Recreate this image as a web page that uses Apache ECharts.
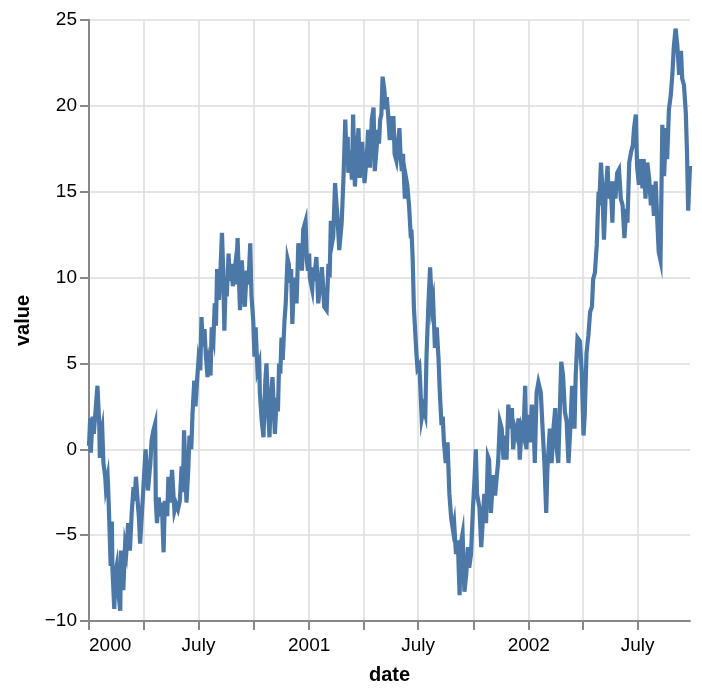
<!DOCTYPE html>
<html>
<head>
<meta charset="utf-8">
<script src="https://cdn.jsdelivr.net/npm/echarts@6/dist/echarts.min.js"></script>
<style>
  html, body { margin: 0; padding: 0; background: #fff; }
  #chart { width: 702px; height: 694px; }
</style>
</head>
<body>
<div id="chart"></div>
<script>
// days since 2000-01-01 and the value for that day
const startDate = [2000, 0, 1]
const days = [0,2,3,6,8,11,14,17,18,20,22,24,27,28,31,32,34,36,38,39,42,44,46,48,52,53,55,57,60,62,64,65,68,71,74,76,78,81,83,85,88,90,94,98,102,104,107,110,111,113,116,118,121,124,126,130,132,135,138,142,145,148,151,154,156,158,162,165,
  167,170,172,175,177,180,182,185,187,189,192,194,197,199,202,204,207,209,211,213,216,218,221,223,225,227,229,232,234,237,239,242,244,247,249,251,254,256,259,262,265,268,270,273,275,277,280,283,284,287,290,293,295,298,300,302,305,307,309,312,314,316,318,320,322,325,327,330,
  332,334,336,338,341,345,348,351,352,354,356,360,362,364,366,367,371,373,374,378,381,384,387,389,391,395,398,400,402,404,406,409,411,413,416,420,423,426,428,430,431,434,437,439,442,445,448,450,454,458,462,464,467,470,473,475,478,480,482,484,486,488,491,493,495,497,
  500,502,504,506,508,511,514,516,518,520,522,525,527,529,532,535,536,538,540,544,546,549,550,553,556,559,561,564,567,570,572,575,578,581,583,586,588,590,593,596,599,602,605,607,610,613,616,618,621,624,627,630,632,635,638,641,643,645,649,652,654,657,660,663,665,
  668,672,675,678,680,683,686,689,691,694,697,700,703,705,708,711,714,716,719,722,725,727,730,733,736,739,741,744,747,751,754,757,760,762,766,769,772,775,777,780,783,785,788,791,794,797,800,803,807,809,812,816,819,822,824,
  827,830,833,836,838,841,844,847,848,851,853,856,859,862,864,867,870,872,875,878,881,884,887,890,893,895,898,901,904,906,909,911,914,917,920,922,925,928,931,934,936,939,942,945,947,950,953,956,959,961,964,967,970,972,975,978,981,984,986,989,992,994,996,999]
const values = [0.2,1.8,-0.2,1.9,0.9,2.3,3.7,1.5,-0.5,0.8,1.2,-0.8,-1.6,-2.2,-1.6,-2.4,-4.5,-6.8,-4.2,-7.0,-9.3,-7.2,-6.8,-8.1,-9.4,-5.9,-7.0,-8.2,-5.6,-6.0,-5.0,-4.3,-5.9,-3.7,-2.2,-3.0,-1.6,-3.1,-4.0,-5.5,-5.4,-2.5,0.0,-2.4,-0.8,0.5,1.1,1.5,-3.0,-4.3,-2.8,-3.9,-3.1,-6.0,-3.0,-3.9,-1.6,-3.1,-1.2,-3.6,-3.2,-3.5,-3.0,-1.0,-2.5,1.1,-3.1,-1.2,
  0.8,0.0,2.0,4.0,2.5,4.2,5.2,4.6,7.7,6.0,7.0,5.6,4.2,5.0,4.3,7.1,6.5,8.5,7.2,10.5,8.7,10.0,12.6,10.5,6.9,9.5,8.9,11.4,9.8,10.8,9.5,10.4,9.6,12.3,10.2,8.1,11.0,9.5,8.3,10.4,9.6,12.0,9.0,7.5,5.4,7.1,4.6,5.0,3.3,1.7,0.7,3.9,5.0,2.0,0.7,2.8,4.2,2.5,0.9,3.0,2.2,5.0,4.4,6.5,5.2,7.5,8.5,11.1,
  10.8,9.7,10.5,7.3,10.0,8.5,12.0,10.6,11.6,10.4,12.8,13.3,11.0,10.4,11.4,10.0,9.3,10.6,9.8,11.2,8.5,9.4,10.6,9.6,8.3,8.1,10.8,10.0,13.3,12.0,12.4,15.5,14.5,13.5,11.6,13.2,15.8,19.2,17.0,18.2,16.1,17.4,15.7,19.5,15.3,17.2,18.7,15.8,17.9,15.5,17.2,18.6,16.4,19.2,19.9,16.2,17.5,18.6,17.8,19.2,19.5,21.7,20.9,19.8,20.5,19.6,
  18.0,19.4,18.0,19.4,17.2,16.8,18.0,18.7,17.0,16.2,17.2,14.6,15.8,15.4,14.2,12.3,12.8,11.1,8.3,5.7,4.7,4.9,4.3,1.8,2.4,2.0,5.4,8.3,10.6,8.3,8.7,5.9,7.1,5.3,3.4,1.4,1.9,0.4,-0.8,0.4,-2.6,-4.0,-4.7,-4.3,-6.1,-5.3,-8.5,-5.5,-4.9,-8.3,-7.3,-5.7,-6.9,-6.1,-3.6,-1.6,0.0,-2.6,-3.4,-5.7,-4.5,-2.6,-4.3,-0.4,-0.6,
  -3.7,-1.5,-2.7,-1.5,-0.8,1.6,1.2,-0.6,0.8,-0.6,2.6,1.2,2.4,0.0,1.2,0.8,1.8,-0.6,1.2,0.8,3.7,0.0,2.0,0.4,2.6,1.6,-0.8,3.3,3.9,3.3,1.2,-0.8,-3.7,-1.1,1.2,-0.8,1.2,2.4,0.2,-0.8,2.7,5.1,4.3,2.2,1.6,-0.8,1.2,3.7,1.2,4.3,6.5,6.3,4.5,0.8,2.0,
  5.6,6.6,8.0,8.3,9.9,10.3,11.9,15.0,14.2,16.7,15.4,12.2,15.0,16.5,14.6,15.6,13.2,15.6,14.6,16.1,16.3,14.6,14.2,12.3,14.0,13.2,16.7,17.3,17.7,18.7,19.5,16.5,15.4,16.9,15.2,16.9,14.6,16.7,15.8,14.2,15.4,13.6,15.6,13.0,11.5,11.0,18.9,15.9,18.7,16.9,19.8,20.6,22.0,23.4,24.5,23.5,21.8,23.2,21.6,21.2,19.6,17.3,13.9,16.5]

// quarter ticks (grid lines) and the ones that carry a label
const quarterTicks = ['2000-01','2000-04','2000-07','2000-10','2001-01','2001-04','2001-07','2001-10','2002-01','2002-04','2002-07']
const labelTicks = ['2000-01','2000-07','2001-01','2001-07','2002-01','2002-07']
const yTicks = { min: -10, max: 25, step: 5 }

const toTime = s => {
  const p = s.split('-')
  return new Date(+p[0], +p[1] - 1, 1).getTime()
}
const dayTime = d => new Date(startDate[0], startDate[1], startDate[2] + d).getTime()

const seriesData = days.map((d, i) => [dayTime(d), values[i]])

const font = '"Liberation Sans", Arial, Helvetica, sans-serif'
const gridColor = '#dddddd'
const axisColor = '#888888'

let chart = echarts.init(document.getElementById('chart'), null, {renderer: 'canvas'})
chart.setOption({
  animation: false,
  backgroundColor: '#ffffff',
  grid: {left: 89, right: 12, top: 20, bottom: 73, containLabel: false, outerBoundsMode: 'none'},
  xAxis: {
    type: 'value',
    min: dayTime(days[0]),
    max: dayTime(days[days.length - 1]),
    name: 'date',
    nameLocation: 'middle',
    nameGap: 44,
    nameTextStyle: {fontFamily: font, fontSize: 20, fontWeight: 'bold', color: '#000'},
    axisLine: {show: true, onZero: false, lineStyle: {color: axisColor, width: 2}},
    axisTick: {show: true, length: 9, lineStyle: {color: axisColor, width: 2}, customValues: quarterTicks.map(toTime)},
    axisLabel: {
      customValues: labelTicks.map(toTime),
      fontFamily: font, fontSize: 19, color: '#000', margin: 15,
      alignMinLabel: 'left',
      formatter: v => {
        const d = new Date(v)
        return d.getMonth() === 0 ? String(d.getFullYear()) : 'July'
      }
    },
    splitLine: {show: true, lineStyle: {color: gridColor, width: 1.5}}
  },
  yAxis: {
    type: 'value',
    min: yTicks.min,
    max: yTicks.max,
    interval: yTicks.step,
    name: 'value',
    nameLocation: 'middle',
    nameRotate: 90,
    nameGap: 52,
    nameTextStyle: {fontFamily: font, fontSize: 20, fontWeight: 'bold', color: '#000'},
    axisLine: {show: true, lineStyle: {color: axisColor, width: 2}},
    axisTick: {show: true, length: 9, lineStyle: {color: axisColor, width: 2}},
    axisLabel: {
      fontFamily: font, fontSize: 19, color: '#000', margin: 12,
      formatter: v => String(v).replace('-', '\u2212')
    },
    splitLine: {show: true, lineStyle: {color: gridColor, width: 1.5}}
  },
  series: [{
    type: 'line',
    data: seriesData,
    showSymbol: false,
    symbol: 'none',
    sampling: null,
    lineStyle: {color: '#4c78a8', width: 4.2, join: 'miter'},
    itemStyle: {color: '#4c78a8'}
  }]
})
</script>
</body>
</html>
